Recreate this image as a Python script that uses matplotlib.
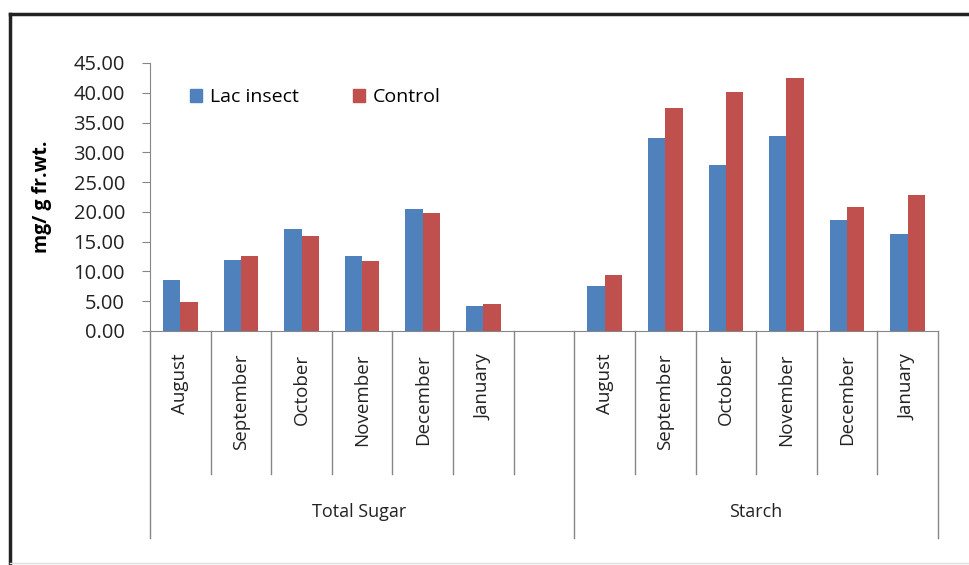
import matplotlib.pyplot as plt
from matplotlib.lines import Line2D
from matplotlib.patches import Patch
import numpy as np

plt.rcParams['font.family'] = ['Open Sans', 'DejaVu Sans']

groups = ["Total Sugar", "Starch"]
months = ["August", "September", "October", "November", "December", "January"]

sugar_lac = [8.6, 11.9, 17.1, 12.6, 20.5, 4.2]
sugar_control = [4.9, 12.6, 15.9, 11.7, 19.8, 4.5]
starch_lac = [7.5, 32.4, 27.9, 32.7, 18.7, 16.3]
starch_control = [9.4, 37.4, 40.1, 42.4, 20.9, 22.8]

blue = "#4F81BD"
red = "#C0504D"
gray = "#868686"
txt = "#222222"

# category slots: 6 months, one empty slot, 6 months
x_sugar = np.arange(6)
x_starch = np.arange(7, 13)

fig = plt.figure(figsize=(9.69, 5.65), dpi=100)
ax = fig.add_axes([150 / 969, (565 - 331) / 565, (938 - 150) / 969, (331 - 63) / 565])

w = 0.285
ax.bar(x_sugar - w / 2, sugar_lac, w, color=blue)
ax.bar(x_sugar + w / 2, sugar_control, w, color=red)
ax.bar(x_starch - w / 2, starch_lac, w, color=blue)
ax.bar(x_starch + w / 2, starch_control, w, color=red)

ax.set_xlim(-0.5, 12.5)
ax.set_ylim(0, 45)
yt = np.arange(0, 46, 5)
ax.set_yticks(yt)
ax.set_yticklabels([f"{v:.2f}" for v in yt], fontsize=14.5, color=txt)
ax.set_xticks([])
ax.tick_params(axis="y", direction="out", length=6, color=gray, pad=12)

for s in ["top", "right"]:
    ax.spines[s].set_visible(False)
ax.spines["left"].set_color(gray)
ax.spines["bottom"].set_color(gray)

ax.set_ylabel("mg/ g fr.wt.", fontsize=14, fontweight="bold")
ax.yaxis.set_label_coords((52 - 150) / 788, 0.5)

# multi-level category axis
trans = ax.get_xaxis_transform()
short_y = -0.534
long_y = -0.772
for xs in list(np.arange(0.5, 6, 1)) + list(np.arange(7.5, 12, 1)):
    ax.plot([xs, xs], [0, short_y], transform=trans, color=gray, lw=1, clip_on=False)
for xs in [-0.5, 6.5, 12.5]:
    ax.plot([xs, xs], [0, long_y], transform=trans, color=gray, lw=1, clip_on=False)

for xs in list(x_sugar) + list(x_starch):
    ax.text(xs, -0.085, months[(xs if xs < 6 else xs - 7)], transform=trans, rotation=90,
            ha="center", va="top", fontsize=13.5, color=txt)

ax.text(x_sugar.mean() + 0.45, -0.676, groups[0], transform=trans, ha="center", va="center",
        fontsize=13, color=txt)
ax.text(x_starch.mean(), -0.676, groups[1], transform=trans, ha="center", va="center",
        fontsize=13, color=txt)

handles = [Patch(color=blue), Patch(color=red)]
ax.legend(handles, ["Lac insect", "Control"], loc="upper left", bbox_to_anchor=(0.051, 0.905),
          ncol=2, frameon=False, fontsize=14, handlelength=0.6, handleheight=0.6,
          columnspacing=2.8, handletextpad=0.4, borderpad=0, borderaxespad=0)

# outer chart border
fig.add_artist(Line2D([10 / 969, 10 / 969], [0, 1 - 14 / 565], color=txt, lw=2.5))
fig.add_artist(Line2D([10 / 969, 1], [1 - 14 / 565, 1 - 14 / 565], color=txt, lw=2.5))
fig.add_artist(Line2D([10 / 969, 1], [2 / 565, 2 / 565], color="#dddddd", lw=1))

fig.savefig("out.png", dpi=100)
